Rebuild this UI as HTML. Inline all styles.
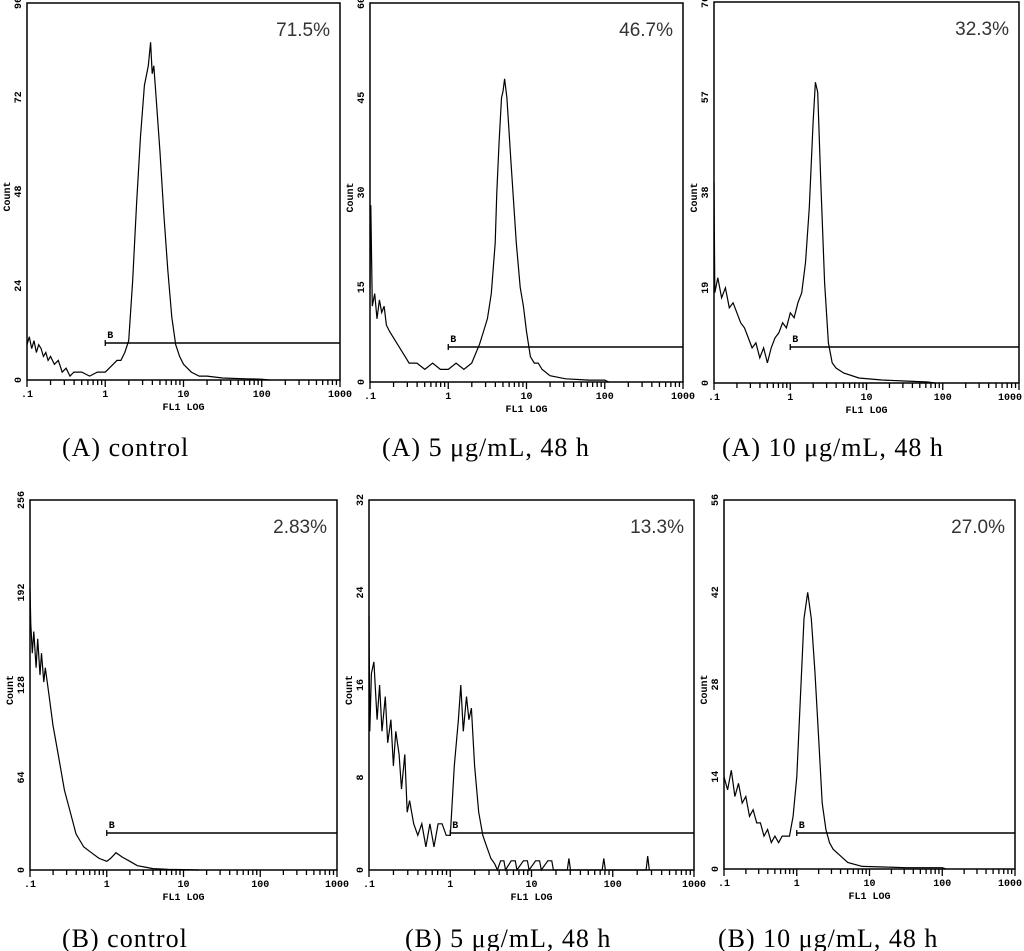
<!DOCTYPE html>
<html><head><meta charset="utf-8">
<style>
html,body{margin:0;padding:0;background:#fff;}
svg{display:block;}
.cap{font-family:"Liberation Serif",serif;font-size:26px;letter-spacing:1px;fill:#000;}
.pct{font-family:"Liberation Sans",sans-serif;font-size:19px;fill:#333;}
.tk{font-family:"Liberation Mono",monospace;font-size:10px;fill:#000;font-weight:bold;}
</style></head>
<body>
<svg id="fig" width="1024" height="951" viewBox="0 0 1024 951" xmlns="http://www.w3.org/2000/svg">
<text class="cap" x="62" y="456">(A) control</text>
<text class="cap" x="382" y="456">(A) 5 μg/mL, 48 h</text>
<text class="cap" x="722" y="456">(A) 10 μg/mL, 48 h</text>
<text class="cap" x="62" y="947">(B) control</text>
<text class="cap" x="405" y="947">(B) 5 μg/mL, 48 h</text>
<text class="cap" x="718" y="947">(B) 10 μg/mL, 48 h</text>
</svg>
<script>
// ---- data (log10 FL1 position, counts) ----
const xTickLabels = [".1","1","10","100","1000"];
const a1X = [-1,-0.97,-0.94,-0.91,-0.88,-0.85,-0.82,-0.79,-0.76,-0.73,-0.7,-0.65,-0.6,-0.55,-0.5,-0.45,-0.4,-0.3,-0.2,-0.1,0,0.05,0.1,0.15,0.2,0.25,0.3,0.35,0.4,0.45,0.5,0.55,0.58,0.6,0.62,0.65,0.7,0.75,0.8,0.85,0.9,0.95,1.0,1.05,1.1,1.2,1.3,1.5,1.8,2.0,2.1];
const a1Y = [9,11,8,10,7,9,8,6,7,5,6,4,5,2,3,1,2,2,1,2,2,3,4,5,5,7,10,25,45,62,75,80,86,78,80,72,58,42,28,16,9,6,4,3,2,1,1,0.5,0.3,0.2,0];
const a2X = [-1,-0.99,-0.97,-0.94,-0.91,-0.88,-0.85,-0.82,-0.79,-0.75,-0.7,-0.65,-0.6,-0.55,-0.5,-0.4,-0.3,-0.2,-0.1,0,0.1,0.2,0.3,0.4,0.45,0.5,0.55,0.6,0.62,0.65,0.68,0.7,0.72,0.75,0.8,0.87,0.92,0.96,1.0,1.05,1.1,1.15,1.2,1.3,1.5,1.8,2.0,2.05];
const a2Y = [15,28,12,14,10,13,11,12,9,8,7,6,5,4,3,3,2,3,2,2,3,2,3,6,8,10,14,22,30,38,45,46,48,45,35,22,15,12,8,4,3,3,2,1,0.5,0.3,0.3,0];
const a3X = [-1,-0.99,-0.95,-0.9,-0.85,-0.8,-0.75,-0.7,-0.65,-0.6,-0.55,-0.5,-0.45,-0.4,-0.35,-0.3,-0.25,-0.2,-0.15,-0.1,-0.05,0,0.05,0.1,0.15,0.2,0.25,0.3,0.33,0.36,0.4,0.45,0.5,0.55,0.6,0.7,0.9,1.2,1.5,1.8,1.9];
const a3Y = [40,18,21,17,19,15,16,14,12,11,9,7,8,5,7,4,7,9,10,12,11,14,13,16,18,24,35,52,60,58,40,20,8,4,3,2,1,0.6,0.4,0.2,0];
const b1X = [-1,-0.99,-0.97,-0.95,-0.92,-0.9,-0.87,-0.85,-0.82,-0.8,-0.75,-0.7,-0.65,-0.6,-0.55,-0.5,-0.45,-0.4,-0.3,-0.2,-0.1,0,0.05,0.12,0.2,0.3,0.4,0.5,0.6,0.8,1.0,1.2];
const b1Y = [195,170,150,165,140,160,135,150,130,140,120,100,85,70,55,45,35,25,16,12,8,6,8,12,9,6,3,2,1,0.5,0.3,0];
const b2X = [-1,-0.99,-0.97,-0.94,-0.9,-0.87,-0.84,-0.8,-0.77,-0.73,-0.7,-0.67,-0.63,-0.6,-0.56,-0.53,-0.5,-0.45,-0.4,-0.35,-0.3,-0.25,-0.2,-0.15,-0.1,-0.05,0,0.05,0.1,0.13,0.16,0.2,0.23,0.26,0.3,0.35,0.4,0.45,0.5,0.55,0.58,0.62,0.66,0.68,0.75,0.8,0.82,0.9,0.95,0.97,1.05,1.1,1.12,1.2,1.25,1.27,1.44,1.46,1.48,1.87,1.89,1.91,2.41,2.43,2.45];
const b2Y = [22,12,17,18,13,16,12,15,11,13,9,12,10,7,10,5,6,4,3,4,2,4,2,4,4,3,3,9,13,16,12,15,13,14,9,5,3,2,1,0.5,0,0.8,0.8,0,0.8,0.8,0,0.8,0.8,0,0.8,0.8,0,0.8,0.8,0,0,1,0,0,1,0,0,1.2,0];
const b3X = [-1,-0.95,-0.9,-0.85,-0.8,-0.75,-0.7,-0.65,-0.6,-0.55,-0.5,-0.45,-0.4,-0.35,-0.3,-0.25,-0.2,-0.1,-0.05,0,0.05,0.1,0.15,0.2,0.25,0.3,0.35,0.4,0.45,0.5,0.6,0.7,0.9,1.2,1.5,2.0,2.05];
const b3Y = [14,12,15,11,13,10,11,8,9,7,7,5,6,4,5,4,5,5,8,14,26,38,42,38,30,20,10,6,4,3,2,1,0.4,0.3,0.2,0.2,0];
const a1Ticks = ["0","24","48","72","96"];
const a2Ticks = ["0","15","30","45","60"];
const a3Ticks = ["0","19","38","57","76"];
const b1Ticks = ["0","64","128","192","256"];
const b2Ticks = ["0","8","16","24","32"];
const b3Ticks = ["0","14","28","42","56"];
const a1Max = 96, a2Max = 60, a3Max = 76, b1Max = 256, b2Max = 32, b3Max = 56;

const NS = "http://www.w3.org/2000/svg";
const svg = document.getElementById('fig');
function mk(tag, attrs, parent){const e=document.createElementNS(NS,tag);for(const k in attrs)e.setAttribute(k,attrs[k]);(parent||svg).appendChild(e);return e;}

function panel(id, L, R, T, B, xs, ys, ymax, ticks, gateY, pct){
  const g = mk('g',{});
  
  
  const sx = v => L + (v + 1) / 4 * (R - L);
  const sy = v => B - v / ymax * (B - T);
  const fr = mk('rect',{x:L,y:T,width:R-L,height:B-T,fill:'none',stroke:'#000','stroke-width':1.5},g);
  
  
  for(let d=0; d<4; d++){
    for(let m=1;m<10;m++){
      const v = d - 1 + Math.log10(m);
      const x = sx(v);
      mk('line',{x1:x,x2:x,y1:B,y2:B+(m===1?7:5),stroke:'#000','stroke-width':1.3},g);
    }
  }
  mk('line',{x1:R,x2:R,y1:B,y2:B+7,stroke:'#000','stroke-width':1.3},g);
  xTickLabels.forEach((lab,i)=>{
    let x = sx(i-1), anchor = 'middle';
    if (i === xTickLabels.length-1 && x + 13 > 1022) { x = 1022; anchor = 'end'; }
    const t = mk('text',{x:x,y:B+17,'text-anchor':anchor,class:'tk'},g);
    t.textContent = lab;
    
    
  });
  const xl = mk('text',{x:(L+R)/2,y:B+30,'text-anchor':'middle',class:'tk'},g);
  xl.textContent = 'FL1 LOG';
  
  
  ticks.forEach((lab,i)=>{
    const y = sy(i/(ticks.length-1)*ymax);
    const t = mk('text',{x:0,y:0,'text-anchor':'middle',class:'tk',transform:`translate(${L-6},${y}) rotate(-90)`},g);
    t.textContent = lab;
    
    
  });
  const yl = mk('text',{x:0,y:0,'text-anchor':'middle',class:'tk',transform:`translate(${L-17},${(T+B)/2+5}) rotate(-90)`},g);
  yl.textContent = 'Count';
  
  
  const gx = sx(0);
  const gl = mk('line',{x1:gx,x2:R,y1:gateY,y2:gateY,stroke:'#000','stroke-width':1.5},g);
  
  
  mk('line',{x1:gx,x2:gx,y1:gateY-3,y2:gateY+3,stroke:'#000','stroke-width':1.3},g);
  const gt = mk('text',{x:gx+2,y:gateY-5,class:'tk','font-size':'9'},g);
  gt.textContent = 'B';
  
  
  let d = '';
  xs.forEach((v,i)=>{ d += (i?'L':'M') + sx(v).toFixed(1) + ' ' + sy(ys[i]).toFixed(1); });
  const p = mk('path',{d:d,fill:'none',stroke:'#000','stroke-width':1.2},g);
  
  
  const pt = mk('text',{x:R-10,y:T+33,'text-anchor':'end',class:'pct'},g);
  pt.textContent = pct;
  
  
}
panel('a-control', 27, 340, 3, 380, a1X, a1Y, a1Max, a1Ticks, 343, '71.5%');
panel('a-5', 370, 683, 3, 382, a2X, a2Y, a2Max, a2Ticks, 347, '46.7%');
panel('a-10', 714, 1019, 2, 383, a3X, a3Y, a3Max, a3Ticks, 347, '32.3%');
panel('b-control', 30, 337, 500, 870, b1X, b1Y, b1Max, b1Ticks, 833, '2.83%');
panel('b-5', 369, 694, 500, 870, b2X, b2Y, b2Max, b2Ticks, 833, '13.3%');
panel('b-10', 724, 1015, 500, 869, b3X, b3Y, b3Max, b3Ticks, 833, '27.0%');
</script>
</body></html>
